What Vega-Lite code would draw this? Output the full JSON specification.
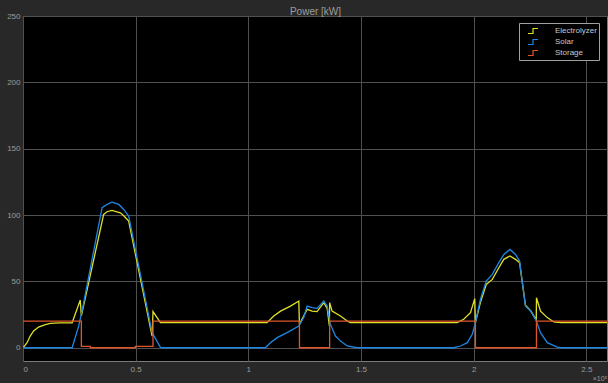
{
  "$schema": "https://vega.github.io/schema/vega-lite/v6.json",
  "autosize": {"type": "none"},
  "padding": {"left": 23, "top": 16, "right": 1, "bottom": 22},
  "width": 584,
  "height": 345,
  "background": "#282828",
  "config": {
    "view": {"fill": "#000000", "stroke": "#7a7a7a", "strokeWidth": 1},
    "axis": {"labelFont": "Liberation Sans", "labelFontSize": 8, "labelColor": "#9c9c9c", "gridColor": "#505050", "gridWidth": 1, "ticks": false, "domain": false}
  },
  "data": {"values": [
    {"s": "Electrolyzer", "i": 1, "t": 0, "p": 0},
    {"s": "Electrolyzer", "i": 2, "t": 300, "p": 0.5},
    {"s": "Electrolyzer", "i": 3, "t": 1800, "p": 3.8},
    {"s": "Electrolyzer", "i": 4, "t": 3200, "p": 8.8},
    {"s": "Electrolyzer", "i": 5, "t": 4700, "p": 12.6},
    {"s": "Electrolyzer", "i": 6, "t": 6900, "p": 15.6},
    {"s": "Electrolyzer", "i": 7, "t": 9900, "p": 17.4},
    {"s": "Electrolyzer", "i": 8, "t": 12100, "p": 18.4},
    {"s": "Electrolyzer", "i": 9, "t": 16000, "p": 18.8},
    {"s": "Electrolyzer", "i": 10, "t": 21800, "p": 18.8},
    {"s": "Electrolyzer", "i": 11, "t": 25400, "p": 35.9},
    {"s": "Electrolyzer", "i": 12, "t": 25900, "p": 24},
    {"s": "Electrolyzer", "i": 13, "t": 35800, "p": 100.5},
    {"s": "Electrolyzer", "i": 14, "t": 37300, "p": 102.5},
    {"s": "Electrolyzer", "i": 15, "t": 39500, "p": 103.5},
    {"s": "Electrolyzer", "i": 16, "t": 43200, "p": 101.7},
    {"s": "Electrolyzer", "i": 17, "t": 44700, "p": 99.5},
    {"s": "Electrolyzer", "i": 18, "t": 46900, "p": 95.4},
    {"s": "Electrolyzer", "i": 19, "t": 57300, "p": 8.8},
    {"s": "Electrolyzer", "i": 20, "t": 57700, "p": 27.2},
    {"s": "Electrolyzer", "i": 21, "t": 61000, "p": 18.9},
    {"s": "Electrolyzer", "i": 22, "t": 108300, "p": 18.9},
    {"s": "Electrolyzer", "i": 23, "t": 111300, "p": 23.9},
    {"s": "Electrolyzer", "i": 24, "t": 114300, "p": 27.6},
    {"s": "Electrolyzer", "i": 25, "t": 118700, "p": 31.4},
    {"s": "Electrolyzer", "i": 26, "t": 122400, "p": 35.2},
    {"s": "Electrolyzer", "i": 27, "t": 122700, "p": 17.6},
    {"s": "Electrolyzer", "i": 28, "t": 126100, "p": 28.9},
    {"s": "Electrolyzer", "i": 29, "t": 128300, "p": 27.6},
    {"s": "Electrolyzer", "i": 30, "t": 130500, "p": 27.2},
    {"s": "Electrolyzer", "i": 31, "t": 133500, "p": 34},
    {"s": "Electrolyzer", "i": 32, "t": 135000, "p": 29.7},
    {"s": "Electrolyzer", "i": 33, "t": 136000, "p": 16.3},
    {"s": "Electrolyzer", "i": 34, "t": 136100, "p": 34},
    {"s": "Electrolyzer", "i": 35, "t": 137200, "p": 27.6},
    {"s": "Electrolyzer", "i": 36, "t": 140900, "p": 23.9},
    {"s": "Electrolyzer", "i": 37, "t": 143900, "p": 20.1},
    {"s": "Electrolyzer", "i": 38, "t": 145300, "p": 18.9},
    {"s": "Electrolyzer", "i": 39, "t": 192700, "p": 18.9},
    {"s": "Electrolyzer", "i": 40, "t": 195600, "p": 21.4},
    {"s": "Electrolyzer", "i": 41, "t": 198600, "p": 26.4},
    {"s": "Electrolyzer", "i": 42, "t": 200500, "p": 37},
    {"s": "Electrolyzer", "i": 43, "t": 200800, "p": 18.9},
    {"s": "Electrolyzer", "i": 44, "t": 203000, "p": 34},
    {"s": "Electrolyzer", "i": 45, "t": 205600, "p": 47.7},
    {"s": "Electrolyzer", "i": 46, "t": 208300, "p": 51.5},
    {"s": "Electrolyzer", "i": 47, "t": 211200, "p": 60.3},
    {"s": "Electrolyzer", "i": 48, "t": 213400, "p": 66.6},
    {"s": "Electrolyzer", "i": 49, "t": 216100, "p": 69.1},
    {"s": "Electrolyzer", "i": 50, "t": 218600, "p": 66.6},
    {"s": "Electrolyzer", "i": 51, "t": 220400, "p": 64.1},
    {"s": "Electrolyzer", "i": 52, "t": 223000, "p": 32},
    {"s": "Electrolyzer", "i": 53, "t": 225300, "p": 28},
    {"s": "Electrolyzer", "i": 54, "t": 227800, "p": 21},
    {"s": "Electrolyzer", "i": 55, "t": 227900, "p": 37.7},
    {"s": "Electrolyzer", "i": 56, "t": 229700, "p": 27.6},
    {"s": "Electrolyzer", "i": 57, "t": 232700, "p": 22.7},
    {"s": "Electrolyzer", "i": 58, "t": 235600, "p": 19.4},
    {"s": "Electrolyzer", "i": 59, "t": 238600, "p": 18.9},
    {"s": "Electrolyzer", "i": 60, "t": 259200, "p": 18.9},
    {"s": "Solar", "i": 1, "t": 0, "p": 0},
    {"s": "Solar", "i": 2, "t": 21800, "p": 0},
    {"s": "Solar", "i": 3, "t": 24700, "p": 16.3},
    {"s": "Solar", "i": 4, "t": 26200, "p": 27.6},
    {"s": "Solar", "i": 5, "t": 35100, "p": 105.5},
    {"s": "Solar", "i": 6, "t": 37300, "p": 108},
    {"s": "Solar", "i": 7, "t": 39500, "p": 109.7},
    {"s": "Solar", "i": 8, "t": 42500, "p": 108},
    {"s": "Solar", "i": 9, "t": 44700, "p": 104.2},
    {"s": "Solar", "i": 10, "t": 46900, "p": 99.2},
    {"s": "Solar", "i": 11, "t": 57300, "p": 11.4},
    {"s": "Solar", "i": 12, "t": 61000, "p": 0.3},
    {"s": "Solar", "i": 13, "t": 62000, "p": 0},
    {"s": "Solar", "i": 14, "t": 107600, "p": 0},
    {"s": "Solar", "i": 15, "t": 109800, "p": 3.8},
    {"s": "Solar", "i": 16, "t": 112800, "p": 7.6},
    {"s": "Solar", "i": 17, "t": 117200, "p": 11.4},
    {"s": "Solar", "i": 18, "t": 122400, "p": 16.3},
    {"s": "Solar", "i": 19, "t": 124600, "p": 22.7},
    {"s": "Solar", "i": 20, "t": 126100, "p": 31.4},
    {"s": "Solar", "i": 21, "t": 128300, "p": 30.2},
    {"s": "Solar", "i": 22, "t": 130500, "p": 29.7},
    {"s": "Solar", "i": 23, "t": 133500, "p": 35.2},
    {"s": "Solar", "i": 24, "t": 135000, "p": 31.4},
    {"s": "Solar", "i": 25, "t": 136400, "p": 17.6},
    {"s": "Solar", "i": 26, "t": 138700, "p": 8.8},
    {"s": "Solar", "i": 27, "t": 140900, "p": 5},
    {"s": "Solar", "i": 28, "t": 143900, "p": 1.3},
    {"s": "Solar", "i": 29, "t": 148300, "p": 0},
    {"s": "Solar", "i": 30, "t": 191200, "p": 0},
    {"s": "Solar", "i": 31, "t": 194200, "p": 1.3},
    {"s": "Solar", "i": 32, "t": 197200, "p": 3.8},
    {"s": "Solar", "i": 33, "t": 199400, "p": 10.1},
    {"s": "Solar", "i": 34, "t": 200800, "p": 18.9},
    {"s": "Solar", "i": 35, "t": 203000, "p": 36.4},
    {"s": "Solar", "i": 36, "t": 205600, "p": 50.2},
    {"s": "Solar", "i": 37, "t": 208300, "p": 55.3},
    {"s": "Solar", "i": 38, "t": 211200, "p": 64.1},
    {"s": "Solar", "i": 39, "t": 213400, "p": 70.3},
    {"s": "Solar", "i": 40, "t": 216100, "p": 74.1},
    {"s": "Solar", "i": 41, "t": 218600, "p": 70.3},
    {"s": "Solar", "i": 42, "t": 220400, "p": 65.3},
    {"s": "Solar", "i": 43, "t": 223000, "p": 31.4},
    {"s": "Solar", "i": 44, "t": 225300, "p": 27.6},
    {"s": "Solar", "i": 45, "t": 227500, "p": 21.4},
    {"s": "Solar", "i": 46, "t": 229700, "p": 11.4},
    {"s": "Solar", "i": 47, "t": 232700, "p": 3.8},
    {"s": "Solar", "i": 48, "t": 237100, "p": 0.5},
    {"s": "Solar", "i": 49, "t": 239000, "p": 0},
    {"s": "Solar", "i": 50, "t": 259200, "p": 0},
    {"s": "Storage", "i": 1, "t": 0, "p": 20},
    {"s": "Storage", "i": 2, "t": 25900, "p": 20},
    {"s": "Storage", "i": 3, "t": 25900, "p": 1},
    {"s": "Storage", "i": 4, "t": 29900, "p": 1},
    {"s": "Storage", "i": 5, "t": 29900, "p": 0},
    {"s": "Storage", "i": 6, "t": 49900, "p": 0},
    {"s": "Storage", "i": 7, "t": 49900, "p": 1},
    {"s": "Storage", "i": 8, "t": 57700, "p": 1},
    {"s": "Storage", "i": 9, "t": 57700, "p": 20},
    {"s": "Storage", "i": 10, "t": 122700, "p": 20},
    {"s": "Storage", "i": 11, "t": 122700, "p": 0},
    {"s": "Storage", "i": 12, "t": 136100, "p": 0},
    {"s": "Storage", "i": 13, "t": 136100, "p": 20},
    {"s": "Storage", "i": 14, "t": 200800, "p": 20},
    {"s": "Storage", "i": 15, "t": 200800, "p": 0},
    {"s": "Storage", "i": 16, "t": 227900, "p": 0},
    {"s": "Storage", "i": 17, "t": 227900, "p": 20},
    {"s": "Storage", "i": 18, "t": 259200, "p": 20}
  ]},
  "mark": {"type": "line", "strokeWidth": 1.3, "interpolate": "linear", "clip": true},
  "encoding": {
    "x": {"field": "t", "type": "quantitative",
      "scale": {"domain": [0, 259200], "nice": false, "zero": false},
      "axis": {"values": [0, 50000, 100000, 150000, 200000, 250000], "labelExpr": "datum.value / 100000", "labelPadding": 4, "title": "×10⁵", "titleFont": "Liberation Sans", "titleFontSize": 7, "titleFontWeight": "normal", "titleColor": "#9c9c9c", "titleAnchor": "end", "titleAlign": "right", "titlePadding": 1}},
    "y": {"field": "p", "type": "quantitative",
      "scale": {"domain": [-10, 250], "nice": false, "zero": false},
      "axis": {"values": [0, 50, 100, 150, 200, 250], "labelPadding": 3,
        "title": "Power [kW]", "titleAngle": 0, "titleX": 292, "titleY": -2, "titleAlign": "center", "titleBaseline": "alphabetic",
        "titleFont": "Liberation Sans", "titleFontSize": 10, "titleFontWeight": "normal", "titleColor": "#9c9c9c"}},
    "order": {"field": "i", "type": "quantitative"},
    "color": {"field": "s", "type": "nominal",
      "scale": {"domain": ["Electrolyzer", "Solar", "Storage"], "range": ["#e0e02a", "#1f86e0", "#e0562a"]},
      "legend": {"title": null, "orient": "none", "legendX": 496, "legendY": 7, "direction": "vertical",
        "fillColor": "#000000", "strokeColor": "#a0a0a0", "padding": 2, "symbolOffset": 6,
        "symbolType": "M -1 0.5 L 0 0.5 L 0 -0.5 L 1 -0.5", "symbolSize": 100, "symbolStrokeWidth": 1.2, "symbolFillColor": "transparent",
        "labelFont": "Liberation Sans", "labelFontSize": 8, "labelColor": "#c8c8c8", "labelOffset": 16, "rowPadding": 0}}
  }
}
